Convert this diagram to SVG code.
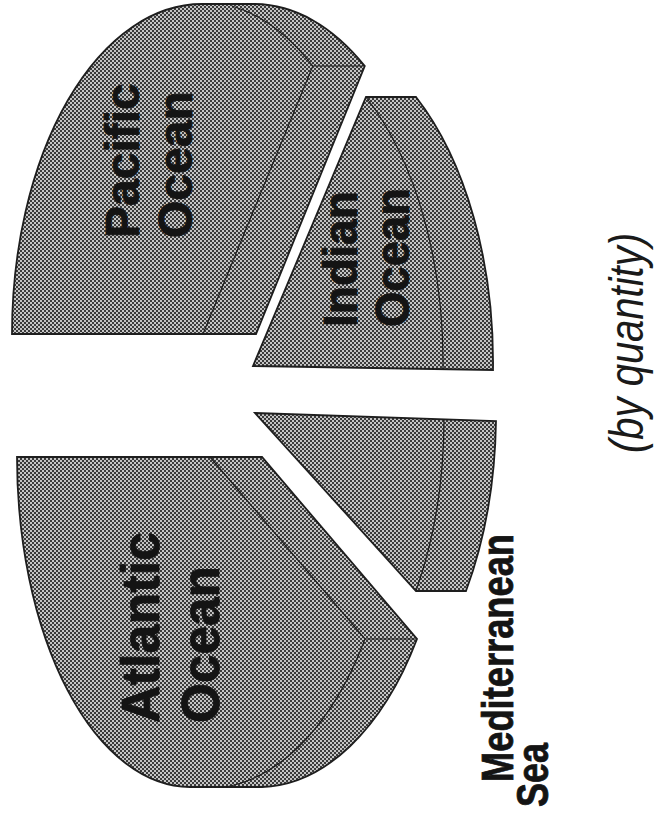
<svg xmlns="http://www.w3.org/2000/svg" width="656" height="820" viewBox="0 0 656 820">
<style>
.slice{fill:url(#dither);stroke:#1e1e1e;stroke-width:1.8;stroke-linejoin:miter}
.edge{fill:none;stroke:#1e1e1e;stroke-width:1.2}
.lbl{font-family:"Liberation Sans",Arial,sans-serif;font-weight:bold;fill:#141414;stroke:#141414;stroke-width:0.8}
.note{font-family:"Liberation Sans",Arial,sans-serif;font-style:italic;fill:#1a1a1a}
</style>
<defs>
<pattern id="dither" width="4" height="4" patternUnits="userSpaceOnUse">
<rect width="4" height="4" fill="#3a3a3a"/>
<rect width="2" height="2" fill="#c4c4c4"/>
<rect x="2" y="2" width="2" height="2" fill="#c4c4c4"/>
</pattern>
</defs>
<rect width="656" height="820" fill="#ffffff"/>
<g id="pacific">
<path class="slice" d="M12,334 A190,330 0 0 1 203,4 L255,4 A190,330 0 0 1 364.8,66 L256,334 Z"/>
<path class="edge" d="M203,334 L312.8,66 L364.8,66 M312.8,66 A190,330 0 0 0 232,6"/>
<text class="lbl" font-size="48" transform="translate(139,238) rotate(-90)">Pacific</text>
<text class="lbl" font-size="48" transform="translate(192,238) rotate(-90)">Ocean</text>
</g>
<g id="indian">
<path class="slice" d="M253,366 L366,97 L416,97 A190,330 0 0 1 493,370 Z"/>
<path class="edge" d="M366,97 A190,330 0 0 1 443,369"/>
<text class="lbl" font-size="48" textLength="136" lengthAdjust="spacingAndGlyphs" transform="translate(357,327) rotate(-90)">Indian</text>
<text class="lbl" font-size="48" textLength="139" lengthAdjust="spacingAndGlyphs" transform="translate(409,327) rotate(-90)">Ocean</text>
</g>
<g id="mediterranean">
<path class="slice" d="M255,413 L496,421 A190,330 0 0 1 466,591 L416,591 Z"/>
<path class="edge" d="M444,419.5 A190,330 0 0 1 416,591"/>
<text class="lbl" font-size="44" textLength="248" lengthAdjust="spacingAndGlyphs" transform="translate(513,782) rotate(-90)">Mediterranean</text>
<text class="lbl" font-size="44" textLength="64" lengthAdjust="spacingAndGlyphs" transform="translate(548,807) rotate(-90)">Sea</text>
</g>
<g id="atlantic">
<path class="slice" d="M17,457 L262,457 L417,639 A190,330 0 0 1 262,787 L190,787 A173,330 0 0 1 17,457 Z"/>
<path class="edge" d="M210,457 L365,639 L417,639 M365,639 A190,330 0 0 1 228,786.5"/>
<text class="lbl" font-size="54" textLength="191" lengthAdjust="spacingAndGlyphs" transform="translate(159,723) rotate(-90)">Atlantic</text>
<text class="lbl" font-size="54" textLength="157" lengthAdjust="spacingAndGlyphs" transform="translate(219,723) rotate(-90)">Ocean</text>
</g>
<g id="note">
<text class="note" font-size="48" textLength="220" lengthAdjust="spacingAndGlyphs" text-anchor="middle" transform="translate(643,343) rotate(-90)">(by quantity)</text>
</g>
</svg>
